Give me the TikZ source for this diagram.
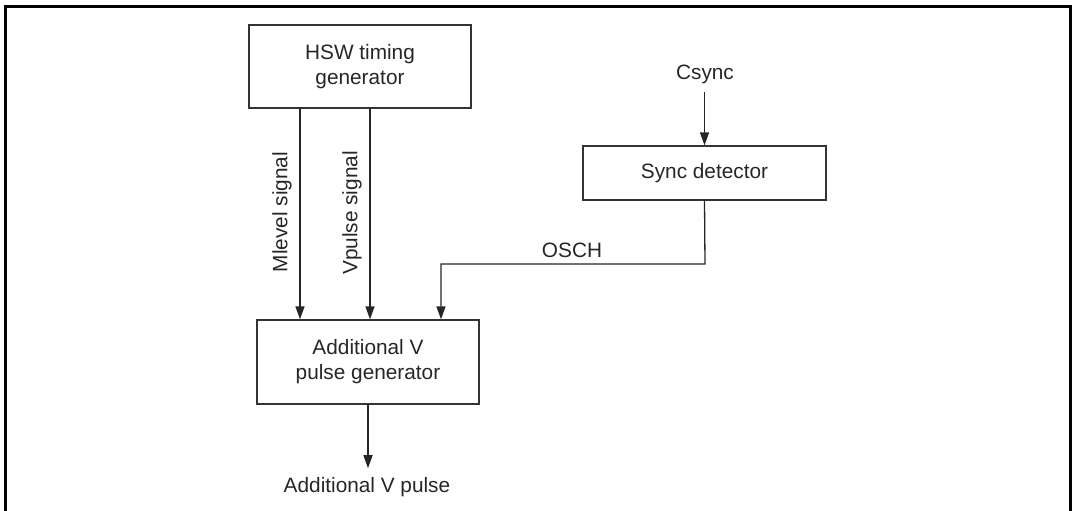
\documentclass[tikz,border=0pt]{standalone}
\usepackage{fontspec}
\setmainfont{Liberation Sans}
\usetikzlibrary{arrows.meta}
\begin{document}
\begin{tikzpicture}[x=1pt,y=-1pt,
  every node/.style={text=black!85, font=\fontsize{20.8}{25}\selectfont},
  blockbox/.style={draw=black!80, line width=1.3pt, align=center, inner sep=0pt},
  conn/.style={draw=black!85, line width=1.3pt},
  arr/.style={conn, -{Triangle[length=13pt,width=9pt]}},
  lbl/.style={inner sep=2pt}]
\useasboundingbox (0,0) rectangle (1076,511);
\draw[line width=3pt, black] (5,511) -- (5,7) -- (1070,7) -- (1070,511);

\node[blockbox, minimum width=222pt, minimum height=83pt] (hsw) at (360,66.5) {HSW timing\\generator};
\node[blockbox, minimum width=243pt, minimum height=54pt] (sync) at (704.5,173) {Sync detector};
\node[blockbox, minimum width=222pt, minimum height=84pt] (add) at (368,362) {Additional V\\pulse generator};

\node[anchor=base, inner xsep=2pt, inner ysep=7.5pt] (csync) at (705,80) {Csync};
\node[anchor=base, inner xsep=2pt, inner ysep=8.5pt] (out) at (367,492) {Additional V pulse};

\coordinate (ml) at (300,0);
\coordinate (vp) at (370,0);
\coordinate (os) at (441,0);
\coordinate (bend) at (705,264);

\draw[arr] (hsw.south -| ml) -- (add.north -| ml);
\draw[arr] (hsw.south -| vp) -- (add.north -| vp);
\draw[arr] (csync.south -| sync.north) -- (sync.north);
\draw[arr] (sync.south) -- (bend) -| (add.north -| os);
\draw[arr] (add.south) -- (add.south |- out.north);

\node[lbl, rotate=90] (mlab) at (282,212) {Mlevel signal};
\node[lbl, rotate=90] (vlab) at (352,213) {Vpulse signal};
\node[lbl] (oschlab) at (572,250) {OSCH};
\end{tikzpicture}
\end{document}
